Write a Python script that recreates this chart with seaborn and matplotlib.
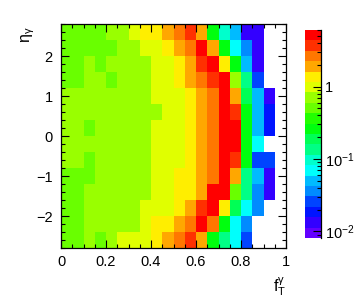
import colorsys
import numpy as np
import pandas as pd
import matplotlib
matplotlib.use("Agg")
import matplotlib.pyplot as plt
import matplotlib.colors as mcolors
import matplotlib.ticker as mticker
from matplotlib.lines import Line2D
import seaborn as sns

# ---------------- data ----------------
# bin edges of the 2D histogram
fT_edges = [0.00, 0.05, 0.10, 0.15, 0.20, 0.25, 0.30, 0.35, 0.40, 0.45, 0.50,
            0.55, 0.60, 0.65, 0.70, 0.75, 0.80, 0.85, 0.90, 0.95, 1.00]
eta_edges = [-2.8, -2.4, -2.0, -1.6, -1.2, -0.8, -0.4, 0.0,
             0.4, 0.8, 1.2, 1.6, 2.0, 2.4, 2.8]

N = np.nan
# bin contents, one list per eta row, from top (eta 2.4..2.8) to bottom
row_p26 = [0.51, 0.51, 0.51, 0.51, 0.70, 0.70, 0.98, 1.36, 1.36, 1.9, 2.6, 3.7, 1.9, 0.26, 0.097, 0.05, 0.0134, 0.0134, N, N]
row_p22 = [0.51, 0.51, 0.51, 0.51, 0.51, 0.70, 0.70, 0.98, 0.98, 1.36, 1.9, 2.6, 5.1, 1.9, 0.26, 0.07, 0.036, 0.0134, N, N]
row_p18 = [0.51, 0.51, 0.70, 0.51, 0.70, 0.70, 0.70, 0.70, 0.98, 0.98, 1.36, 1.9, 3.7, 5.1, 1.36, 0.26, 0.05, 0.0134, N, N]
row_p14 = [0.51, 0.51, 0.70, 0.70, 0.51, 0.70, 0.70, 0.70, 0.98, 0.98, 1.36, 1.9, 2.6, 3.7, 5.1, 0.70, 0.135, 0.026, N, N]
row_p10 = [0.70, 0.70, 0.70, 0.70, 0.70, 0.70, 0.70, 0.70, 0.98, 0.98, 0.98, 1.36, 1.9, 2.6, 5.1, 1.9, 0.19, 0.05, 0.0134, N]
row_p06 = [0.70, 0.70, 0.70, 0.70, 0.70, 0.70, 0.70, 0.70, 0.70, 0.98, 0.98, 1.36, 1.9, 2.6, 5.1, 3.7, 0.26, 0.05, 0.0186, N]
row_p02 = [0.70, 0.70, 0.51, 0.70, 0.70, 0.70, 0.70, 0.70, 0.98, 0.98, 0.98, 1.36, 1.9, 2.6, 5.1, 5.1, 0.26, 0.05, 0.0186, N]
row_m02 = [0.70, 0.70, 0.70, 0.70, 0.70, 0.70, 0.70, 0.70, 0.98, 0.98, 0.98, 1.36, 1.9, 2.6, 5.1, 5.1, 0.26, 0.07, N, N]
row_m06 = [0.70, 0.70, 0.51, 0.70, 0.70, 0.70, 0.70, 0.70, 0.98, 0.98, 0.98, 1.36, 1.9, 2.6, 5.1, 3.7, 0.26, 0.026, 0.026, N]
row_m10 = [0.51, 0.51, 0.51, 0.70, 0.70, 0.70, 0.70, 0.70, 0.98, 0.98, 1.36, 1.36, 1.9, 2.6, 5.1, 1.9, 0.135, 0.05, 0.0134, N]
row_m14 = [0.51, 0.51, 0.70, 0.70, 0.70, 0.70, 0.70, 0.70, 0.98, 0.98, 1.36, 1.36, 1.9, 5.1, 5.1, 0.51, 0.135, 0.036, 0.0134, N]
row_m18 = [0.51, 0.51, 0.70, 0.70, 0.70, 0.70, 0.70, 0.98, 0.98, 0.98, 1.36, 1.9, 3.7, 5.1, 1.36, 0.19, 0.07, 0.036, N, N]
row_m22 = [0.51, 0.51, 0.70, 0.70, 0.70, 0.70, 0.70, 0.98, 1.36, 1.36, 1.9, 2.6, 5.1, 2.6, 0.26, 0.07, 0.036, N, N, N]
row_m26 = [0.51, 0.51, 0.70, 0.51, 0.70, 0.98, 0.98, 0.98, 1.36, 1.9, 2.6, 3.7, 1.9, 0.26, 0.135, 0.07, 0.026, N, N, N]

rows = [row_p26, row_p22, row_p18, row_p14, row_p10, row_p06, row_p02,
        row_m02, row_m06, row_m10, row_m14, row_m18, row_m22, row_m26]

z_min, z_max = 0.00813, 6.03
x_ticks = [0.0, 0.2, 0.4, 0.6, 0.8, 1.0]
x_ticklabels = ["0", "0.2", "0.4", "0.6", "0.8", "1"]
y_ticks = [-2, -1, 0, 1, 2]
y_ticklabels = ["\u22122", "\u22121", "0", "1", "2"]
z_ticks = [0.01, 0.1, 1.0]
z_ticklabels = [r"$\mathregular{10^{-2}}$", r"$\mathregular{10^{-1}}$", "1"]

# ---------------- style ----------------
plt.rcParams["font.family"] = ["Liberation Sans", "DejaVu Sans"]
plt.rcParams["mathtext.fontset"] = "custom"
plt.rcParams["mathtext.rm"] = "Liberation Sans"
plt.rcParams["mathtext.it"] = "Liberation Sans"
plt.rcParams["mathtext.bf"] = "Liberation Sans:bold"

# ROOT "pretty" palette (50 hues), sampled for 20 contour levels
pal50 = [colorsys.hls_to_rgb((280 - (i + 1) * 5.6) / 360.0, 0.5, 1.0) for i in range(50)]
levels = 20
cols = [pal50[int((k + 0.99) * 50 / levels)] for k in range(levels)]
cmap = mcolors.ListedColormap(cols)
cmap.set_bad((1, 1, 1, 0))
norm = mcolors.LogNorm(vmin=z_min, vmax=z_max)

W, H = 357, 302
fig = plt.figure(figsize=(W / 100, H / 100), dpi=100)
ax = fig.add_axes([61 / W, 1 - 248 / H, 225 / W, 224 / H])
cax = fig.add_axes([305 / W, 1 - 238 / H, 16 / W, 208 / H])

eta_centers = [round((eta_edges[i] + eta_edges[i + 1]) / 2, 2) for i in range(len(eta_edges) - 1)][::-1]
fT_centers = [round((fT_edges[i] + fT_edges[i + 1]) / 2, 3) for i in range(len(fT_edges) - 1)]
df = pd.DataFrame(rows, index=eta_centers, columns=fT_centers)

sns.heatmap(df, ax=ax, cmap=cmap, norm=norm, cbar=True, cbar_ax=cax,
            xticklabels=False, yticklabels=False)

# map physical values onto heatmap cell coordinates
nx = len(fT_edges) - 1
ny = len(eta_edges) - 1
def xpos(v):
    return np.interp(v, fT_edges, np.arange(nx + 1))
def ypos(v):
    return np.interp(v, eta_edges, np.arange(ny + 1)[::-1])

for s in ax.spines.values():
    s.set_visible(True)
    s.set_color("black")
    s.set_linewidth(0.9)

ax.set_xticks(xpos(np.array(x_ticks)))
ax.set_xticklabels(x_ticklabels)
ax.set_yticks(ypos(np.array(y_ticks)))
ax.set_yticklabels(y_ticklabels, rotation=0)
ax.xaxis.set_minor_locator(mticker.FixedLocator(xpos(np.array(fT_edges))))
ax.yaxis.set_minor_locator(mticker.FixedLocator(ypos(np.arange(-2.8, 2.81, 0.2))))
ax.tick_params(which="both", direction="in", top=True, right=True,
               bottom=True, left=True, color="black", width=0.8,
               labelsize=10.5, labelcolor="black")
ax.tick_params(which="major", length=5.5)
ax.tick_params(which="minor", length=2.6)
ax.tick_params(axis="x", which="major", pad=5)
ax.tick_params(axis="y", which="major", pad=6)
ax.set_xlabel("")
ax.set_ylabel("")

# axis titles (ROOT style, at the axis ends)
fig.text(286 / W, 1 - 298 / H, r"$\mathregular{f_{T}^{\gamma}}$", ha="right", va="bottom", fontsize=11.5)
fig.text(19 / W, 1 - 26 / H, r"$\mathregular{\eta_{\gamma}}$", ha="left", va="top", rotation=90, fontsize=11.5)

# colour bar
cbar = ax.collections[0].colorbar
cbar.outline.set_visible(False)
cax.yaxis.set_major_locator(mticker.FixedLocator(z_ticks))
cax.yaxis.set_major_formatter(mticker.FixedFormatter(z_ticklabels))
cax.yaxis.set_minor_locator(mticker.LogLocator(base=10, subs=np.arange(2, 10), numticks=20))
cax.yaxis.set_minor_formatter(mticker.NullFormatter())
cax.tick_params(which="both", direction="in", right=True, left=False,
                color="black", width=0.8, labelsize=10.5, pad=3)
cax.tick_params(which="major", length=5.5)
cax.tick_params(which="minor", length=2.6)
cax.add_line(Line2D([1, 1], [0, 1], transform=cax.transAxes, color="black", lw=0.9, clip_on=False))

fig.savefig("out.png", dpi=100)
